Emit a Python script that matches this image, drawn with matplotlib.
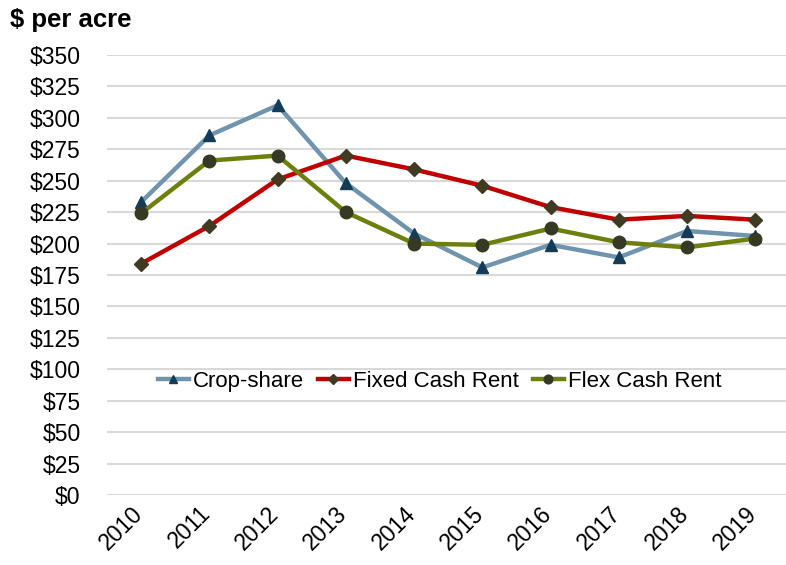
import matplotlib
matplotlib.use("Agg")
import matplotlib.pyplot as plt
import matplotlib.transforms as mtransforms
from matplotlib.ticker import FuncFormatter

plt.rcParams['font.family'] = ['Liberation Sans', 'DejaVu Sans']

years = ['2010', '2011', '2012', '2013', '2014', '2015', '2016', '2017', '2018', '2019']
crop_share = [233, 286, 310, 248, 208, 181, 199, 189, 210, 206]
fixed_cash = [184, 214, 251, 270, 259, 246, 229, 219, 222, 219]
flex_cash = [224, 266, 270, 225, 200, 199, 212, 201, 197, 204]
y_ticks = list(range(0, 351, 25))

fig = plt.figure(figsize=(7.86, 5.65), dpi=100)
ax = fig.add_axes([107/786, 1-495/565, 1-107/786, 440/565])

x = list(range(len(years)))
ax.plot(x, crop_share, color='#7094AE', lw=3.2, marker='^', ms=8,
        mfc='#143C58', mec='#143C58', label='Crop-share', clip_on=False, zorder=3)
ax.plot(x, fixed_cash, color='#C00000', lw=3.2, marker='D', ms=7,
        mfc='#403A22', mec='#403A22', label='Fixed Cash Rent', clip_on=False, zorder=3)
ax.plot(x, flex_cash, color='#6E7F0E', lw=3.2, marker='o', ms=9,
        mfc='#363A22', mec='#363A22', label='Flex Cash Rent', clip_on=False, zorder=3)

ax.set_ylim(0, 350)
ax.set_xlim(-0.5, 9.45)
ax.set_yticks(y_ticks)
ax.yaxis.set_major_formatter(FuncFormatter(lambda v, p: f'${int(v)}'))
ax.set_xticks(x)
ax.set_xticklabels(years, rotation=45, ha='right', va='top')
ax.tick_params(axis='both', length=0, labelsize=16.5, colors='black')
ax.tick_params(axis='y', pad=19)
ax.tick_params(axis='x', pad=5)
offset = mtransforms.ScaledTranslation(6/100, 0, fig.dpi_scale_trans)
for lbl in ax.get_xticklabels():
    lbl.set_transform(lbl.get_transform() + offset)
ax.grid(axis='y', color='#D9D9D9', lw=1.5)
ax.set_axisbelow(True)
for s in ax.spines.values():
    s.set_visible(False)

leg = ax.legend(loc='center', bbox_to_anchor=(0.49, 0.259), ncol=3, frameon=False,
                fontsize=16, handlelength=1.4, handletextpad=0.2, columnspacing=0.6,
                borderpad=0, markerscale=0.7)

fig.text(10/786, 1-20/565, '$ per acre', fontsize=18.5, fontweight='bold', ha='left', va='center')

fig.savefig('out.png', dpi=100)
